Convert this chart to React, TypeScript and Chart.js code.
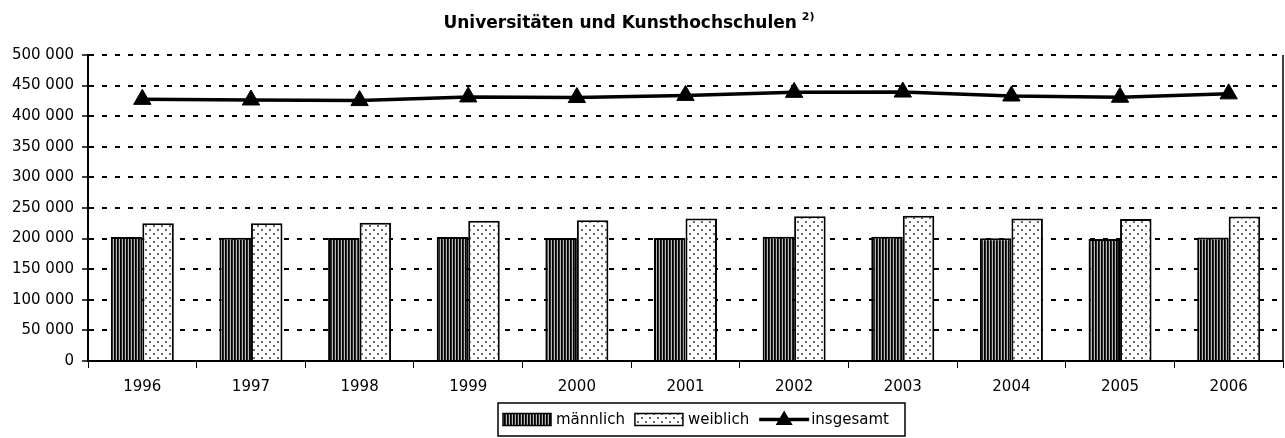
import React, { useEffect, useRef } from "react";
import { Chart, registerables } from "chart.js";

Chart.register(...registerables);

const years = ["1996", "1997", "1998", "1999", "2000", "2001", "2002", "2003", "2004", "2005", "2006"];
const maennlich = [202500, 201500, 201000, 202500, 201000, 201000, 203000, 203000, 200500, 199500, 202000];
const weiblich = [225000, 225000, 226000, 229000, 230000, 233000, 236500, 237500, 233000, 232000, 236000];
const insgesamt = [427500, 426500, 425500, 431500, 430500, 434000, 439000, 439500, 433000, 431000, 436500];
const yTicks = [0, 50000, 100000, 150000, 200000, 250000, 300000, 350000, 400000, 450000, 500000];
const titleText = "Universitäten und Kunsthochschulen";
const titleNote = "2)";
const legendLabels = ["männlich", "weiblich", "insgesamt"];

const FONT = "'DejaVu Sans', sans-serif";

function fmt(v: number): string {
  return String(Math.round(v)).replace(/\B(?=(\d{3})+(?!\d))/g, " ");
}

function makeStripe(ctx: CanvasRenderingContext2D): CanvasPattern | string {
  const c = document.createElement("canvas");
  c.width = 3;
  c.height = 4;
  const g = c.getContext("2d")!;
  g.fillStyle = "#000";
  g.fillRect(0, 0, 1, 4);
  g.fillStyle = "#2a2a2a";
  g.fillRect(1, 0, 1, 4);
  g.fillStyle = "#b8b8b8";
  g.fillRect(2, 0, 1, 4);
  return ctx.createPattern(c, "repeat") || "#555";
}

function makeDots(ctx: CanvasRenderingContext2D): CanvasPattern | string {
  const c = document.createElement("canvas");
  c.width = 8;
  c.height = 8;
  const g = c.getContext("2d")!;
  g.fillStyle = "#fff";
  g.fillRect(0, 0, 8, 8);
  g.fillStyle = "#6a6a6a";
  g.fillRect(1, 1, 2, 2);
  g.fillRect(5, 5, 2, 2);
  return ctx.createPattern(c, "repeat") || "#eee";
}

export default function App() {
  const ref = useRef<HTMLCanvasElement | null>(null);

  useEffect(() => {
    document.body.style.margin = "0";
    const canvas = ref.current;
    if (!canvas) return;
    const ctx = canvas.getContext("2d")!;
    const stripe = makeStripe(ctx);
    const dots = makeDots(ctx);

    const decor = {
      id: "decor",
      afterDraw(chart: any) {
        const c = chart.ctx as CanvasRenderingContext2D;
        const a = chart.chartArea;
        c.save();
        // right border
        c.strokeStyle = "#000";
        c.lineWidth = 1.5;
        c.beginPath();
        c.moveTo(a.right, a.top);
        c.lineTo(a.right, a.bottom);
        c.stroke();

        // title
        c.fillStyle = "#000";
        c.textBaseline = "alphabetic";
        c.font = `bold 17px ${FONT}`;
        const tw = c.measureText(titleText).width;
        c.font = `bold 11px ${FONT}`;
        const nw = c.measureText(titleNote).width;
        const total = tw + 5 + nw;
        const tx = 629 - total / 2;
        c.font = `bold 17px ${FONT}`;
        c.textAlign = "left";
        c.fillText(titleText, tx, 28);
        c.font = `bold 11px ${FONT}`;
        c.fillText(titleNote, tx + tw + 5, 20);

        // legend
        const bx = 498, by = 403, bw = 407, bh = 33;
        c.lineWidth = 1.5;
        c.strokeStyle = "#000";
        c.strokeRect(bx, by, bw, bh);
        const cy = by + bh / 2;
        c.font = `15px ${FONT}`;
        c.textBaseline = "middle";
        let x = 503;
        const sw = 48, sh = 12;
        const fills = [stripe, dots];
        for (let i = 0; i < 2; i++) {
          c.fillStyle = fills[i] as any;
          c.fillRect(x, cy - sh / 2, sw, sh);
          c.strokeStyle = "#000";
          c.lineWidth = 1.5;
          c.strokeRect(x, cy - sh / 2, sw, sh);
          x += sw + 5;
          c.fillStyle = "#000";
          c.fillText(legendLabels[i], x, cy + 1);
          x += c.measureText(legendLabels[i]).width + 10;
        }
        // line entry
        c.strokeStyle = "#000";
        c.lineWidth = 3.5;
        c.beginPath();
        c.moveTo(x, cy);
        c.lineTo(x + 50, cy);
        c.stroke();
        const mx = x + 25;
        const r = 10;
        c.fillStyle = "#000";
        c.beginPath();
        c.moveTo(mx, cy - r * 0.9);
        c.lineTo(mx + r * 0.85, cy + r * 0.55);
        c.lineTo(mx - r * 0.85, cy + r * 0.55);
        c.closePath();
        c.fill();
        x += 52;
        c.fillText(legendLabels[2], x, cy + 1);
        c.restore();
      },
    };

    const chart = new Chart(canvas, {
      type: "bar",
      data: {
        labels: years,
        datasets: [
          {
            type: "line",
            label: legendLabels[2],
            data: insgesamt,
            borderColor: "#000",
            borderWidth: 3.5,
            backgroundColor: "#000",
            pointStyle: "triangle",
            pointRadius: 10,
            pointBackgroundColor: "#000",
            pointBorderColor: "#000",
            pointBorderWidth: 1,
            tension: 0,
            order: 0,
          } as any,
          {
            type: "bar",
            label: legendLabels[0],
            data: maennlich,
            backgroundColor: stripe as any,
            borderColor: "#000",
            borderWidth: 2,
            categoryPercentage: 0.58,
            barPercentage: 1,
            order: 1,
          },
          {
            type: "bar",
            label: legendLabels[1],
            data: weiblich,
            backgroundColor: dots as any,
            borderColor: "#000",
            borderWidth: 2,
            categoryPercentage: 0.58,
            barPercentage: 1,
            order: 1,
          },
        ],
      },
      options: {
        responsive: false,
        animation: false,
        layout: { autoPadding: false, padding: { top: 55, right: 2, bottom: 0, left: 0 } } as any,
        plugins: {
          legend: { display: false },
          title: { display: false },
          tooltip: { enabled: false },
        },
        scales: {
          x: {
            offset: true,
            grid: {
              offset: true,
              drawOnChartArea: false,
              drawTicks: true,
              tickLength: 7,
              tickColor: "#000",
              tickWidth: 1,
            },
            border: { display: true, color: "#000", width: 2 },
            ticks: {
              color: "#000",
              font: { family: FONT, size: 15 },
              padding: 10,
              maxRotation: 0,
            },
            afterFit(scale: any) {
              scale.height = 77;
            },
          },
          y: {
            min: 0,
            max: 500000,
            afterBuildTicks(scale: any) {
              scale.ticks = yTicks.map((v) => ({ value: v }));
            },
            grid: {
              color: "#000",
              lineWidth: 2,
              drawTicks: true,
              tickLength: 6,
              tickColor: "#000",
              tickWidth: 1.5,
              tickBorderDash: [],
            } as any,
            border: { display: true, color: "#000", width: 2, dash: [5, 8] },
            ticks: {
              color: "#000",
              font: { family: FONT, size: 15 },
              padding: 8,
              callback: (v: any) => fmt(Number(v)),
            },
            afterFit(scale: any) {
              scale.width = 88;
            },
          },
        },
      },
      plugins: [decor],
    });

    return () => chart.destroy();
  }, []);

  return (
    <div style={{ width: 1285, height: 438 }}>
      <canvas ref={ref} width={1285} height={438} style={{ width: 1285, height: 438, display: "block" }} />
    </div>
  );
}
